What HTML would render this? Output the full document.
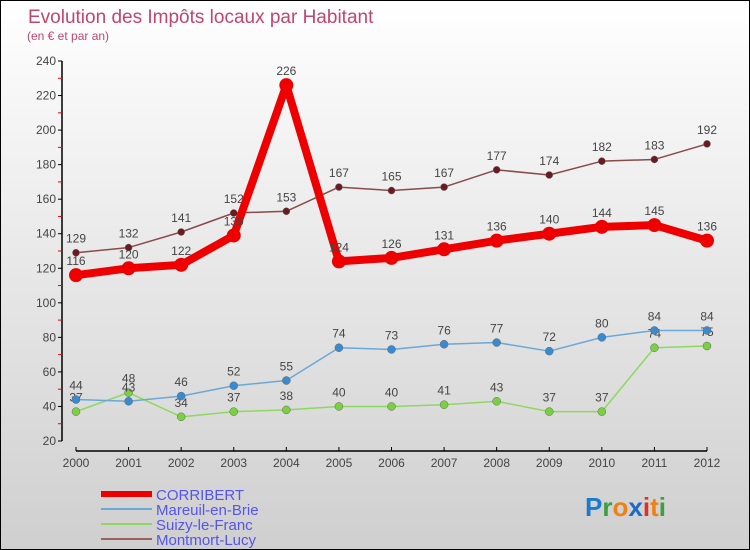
<!DOCTYPE html>
<html><head><meta charset="utf-8"><style>
body{margin:0;}
#c{width:750px;height:550px;position:relative;box-sizing:border-box;border:1px solid #000;background:linear-gradient(#ffffff,#cfcfcf);font-family:"Liberation Sans",sans-serif;overflow:hidden}
svg{position:absolute;left:0;top:0}
</style></head><body>
<div id="c">
<svg id="s" width="750" height="550">
<text x="27" y="22" font-size="19" fill="#c2456e">Evolution des Impôts locaux par Habitant</text>
<text x="26" y="39" font-size="12" fill="#c2456e">(en € et par an)</text>
<g id="axes"></g><g id="series"></g><g id="legend"></g>
<text x="584" y="515" font-size="26" font-weight="bold"><tspan fill="#1a7ad0">P</tspan><tspan fill="#3aa040">r</tspan><tspan fill="#f08010">o</tspan><tspan fill="#1a6ac8">x</tspan><tspan fill="#e03020">i</tspan><tspan fill="#f08010">t</tspan><tspan fill="#3aa040">i</tspan></text>
</svg></div>
<script>
const years=["2000","2001","2002","2003","2004","2005","2006","2007","2008","2009","2010","2011","2012"];
const yTicks=[20,40,60,80,100,120,140,160,180,200,220,240];
const corribert=[116,120,122,139,226,124,126,131,136,140,144,145,136];
const mareuil=[44,43,46,52,55,74,73,76,77,72,80,84,84];
const suizy=[37,48,34,37,38,40,40,41,43,37,37,74,75];
const montmort=[129,132,141,152,153,167,165,167,177,174,182,183,192];
const NS="http://www.w3.org/2000/svg";
function X(i){return 75+i*(706-75)/12;}
function Y(v){return 440-(v-20)*380/220;}
function mk(tag,attrs,parent){const e=document.createElementNS(NS,tag);for(const k in attrs)e.setAttribute(k,attrs[k]);parent.appendChild(e);return e;}
const ax=document.getElementById('axes');
let yl=mk('line',{x1:61,y1:Y(240),x2:61,y2:Y(20),stroke:'#000','stroke-width':1.5},ax);


let xl=mk('line',{x1:75,y1:450,x2:706,y2:450,stroke:'#000','stroke-width':1.5},ax);


yTicks.forEach((t,i)=>{
  mk('line',{x1:57,y1:Y(t),x2:61,y2:Y(t),stroke:'#000'},ax);
  if(i<yTicks.length-1)mk('line',{x1:57,y1:Y(t+10),x2:61,y2:Y(t+10),stroke:'#e00'},ax);
  const tx=mk('text',{x:55,y:Y(t)+4,'font-size':12,fill:'#444','text-anchor':'end'},ax);tx.textContent=t;
  
  
});
years.forEach((y,i)=>{
  mk('line',{x1:X(i),y1:446,x2:X(i),y2:450,stroke:'#000'},ax);
  const tx=mk('text',{x:X(i),y:466,'font-size':12,fill:'#444','text-anchor':'middle'},ax);tx.textContent=y;
  
  
});
const sg=document.getElementById('series');
function draw(data,color,fill,w,r,name,labels){
  const pts=data.map((v,i)=>X(i)+','+Y(v)).join(' ');
  const pl=mk('polyline',{points:pts,fill:'none',stroke:color,'stroke-width':w,'stroke-linejoin':'round'},sg);
  
  
  data.forEach((v,i)=>{
    const c=mk('circle',{cx:X(i),cy:Y(v),r:r,fill:fill,stroke:color==fill?'none':'#666','stroke-width':0.5},sg);
    
    
    if(labels){const t=mk('text',{x:X(i),y:Y(v)-10,'font-size':12,fill:'#444','text-anchor':'middle'},sg);t.textContent=v;
    
    }
  });
}
draw(montmort,'#8a4a4a','#6a1a20',1.5,3.5,'montmort-lucy',true);
draw(suizy,'#8ed860','#7ad040',1.5,4,'suizy-le-franc',true);
draw(mareuil,'#6aa8d8','#3a8ad0',1.5,4,'mareuil-en-brie',true);
draw(corribert,'#ee0000','#ee0000',8,7,'corribert',true);
const lg=document.getElementById('legend');
const items=[["CORRIBERT","#ee0000",6],["Mareuil-en-Brie","#6aa8d8",2],["Suizy-le-Franc","#8ed860",2],["Montmort-Lucy","#9a6060",2]];
items.forEach((it,i)=>{
  const y=493+i*15;
  mk('line',{x1:100,y1:y,x2:151,y2:y,stroke:it[1],'stroke-width':it[2]},lg);
  const t=mk('text',{x:155,y:y+6,'font-size':15,fill:'#5555ee'},lg);t.textContent=it[0];
  
  
});
</script>
</body></html>
